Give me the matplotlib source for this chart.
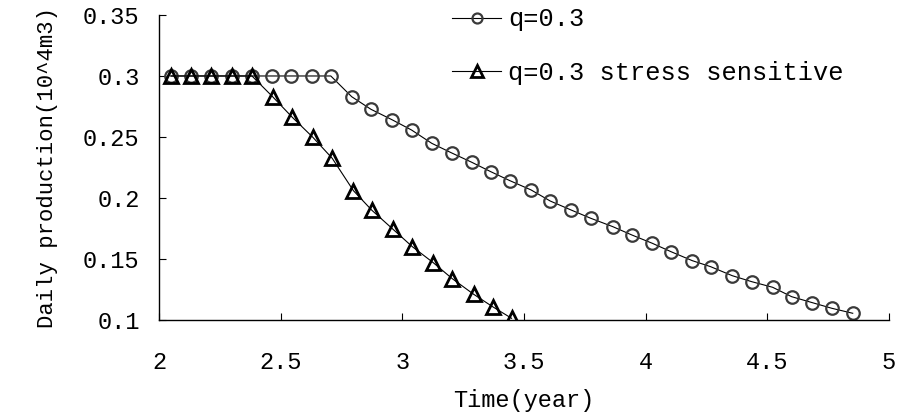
import matplotlib.pyplot as plt

plt.rcParams['font.family'] = ['Liberation Mono', 'DejaVu Sans Mono']

# q=0.3
time_q = [2.049, 2.132, 2.214, 2.300, 2.382, 2.463, 2.542, 2.627, 2.706,
          2.792, 2.871, 2.959, 3.038, 3.121, 3.203, 3.285, 3.363, 3.442,
          3.529, 3.608, 3.693, 3.774, 3.865, 3.943, 4.027, 4.104, 4.192,
          4.267, 4.356, 4.436, 4.522, 4.600, 4.685, 4.765, 4.851]
prod_q = [0.300, 0.300, 0.300, 0.300, 0.300, 0.300, 0.300, 0.300, 0.300,
          0.2830, 0.2727, 0.2640, 0.2557, 0.2448, 0.2369, 0.2293, 0.2216, 0.2142,
          0.2066, 0.1975, 0.1902, 0.1834, 0.1765, 0.1697, 0.1629, 0.1560, 0.1486,
          0.1437, 0.1363, 0.1314, 0.1268, 0.1191, 0.1142, 0.1096, 0.1055]

# q=0.3 stress sensitive
time_s = [2.049, 2.132, 2.214, 2.300, 2.382, 2.467, 2.548, 2.632, 2.712,
          2.799, 2.875, 2.962, 3.041, 3.127, 3.205, 3.293, 3.371, 3.449]
prod_s = [0.300, 0.300, 0.300, 0.300, 0.300, 0.2830, 0.2661, 0.2498, 0.2325,
          0.2060, 0.1899, 0.1743, 0.1601, 0.1470, 0.1339, 0.1211, 0.1109, 0.1014]

labels = ['q=0.3', 'q=0.3 stress sensitive']
xticks = [2, 2.5, 3, 3.5, 4, 4.5, 5]
yticks = [0.1, 0.15, 0.2, 0.25, 0.3, 0.35]

fig = plt.figure(figsize=(9.06, 4.16), dpi=100)
ax = fig.add_axes([0.1755, 0.2308, 0.8057, 0.7332])

ax.plot(time_q, prod_q, color='black', linewidth=0.8, marker='o',
        markersize=9, markerfacecolor='none', markeredgecolor='#3a3a3a',
        markeredgewidth=1.6, label=labels[0])
ax.plot(time_s, prod_s, color='black', linewidth=0.8, marker='^',
        markersize=10, markerfacecolor='none', markeredgecolor='black',
        markeredgewidth=2.0, label=labels[1])

ax.set_xlim(2, 5)
ax.set_ylim(0.1, 0.35)
ax.set_xticks(xticks)
ax.set_yticks(yticks)
ax.set_xticklabels(['2', '2.5', '3', '3.5', '4', '4.5', '5'])
ax.set_yticklabels(['0.1', '0.15', '0.2', '0.25', '0.3', '0.35'])

for s in ['top', 'right']:
    ax.spines[s].set_visible(False)
for s in ['left', 'bottom']:
    ax.spines[s].set_linewidth(1.0)

ax.tick_params(axis='both', direction='in', length=5, width=0.8, labelsize=17)
ax.tick_params(axis='y', pad=14)
ax.tick_params(axis='x', pad=22)

ax.set_xlabel('Time(year)', fontsize=17, labelpad=11)
ax.set_ylabel('Daily production(10^4m3)', fontsize=16, labelpad=18)

ax.legend(loc='upper left', bbox_to_anchor=(0.388, 1.058), frameon=False,
          fontsize=18.3, handlelength=1.9, handletextpad=0.3, labelspacing=1.15,
          markerscale=0.8, borderaxespad=0)

fig.savefig('out.png', dpi=100)
